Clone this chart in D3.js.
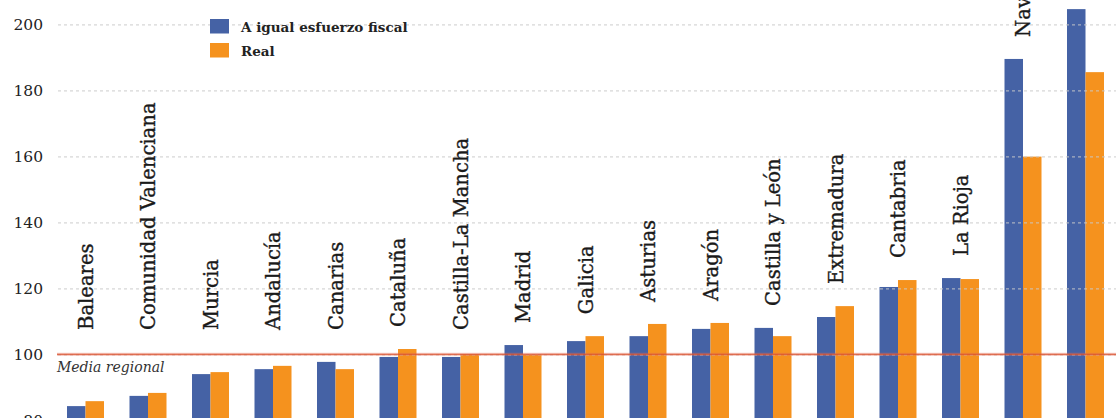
<!DOCTYPE html>
<html>
<head>
<meta charset="utf-8">
<script src="https://cdn.jsdelivr.net/npm/d3@7"></script>
<style>
  body { margin: 0; background: #fff; }
  svg { display: block; font-family: "DejaVu Serif", serif; }
</style>
</head>
<body>
<script>
// regions, ordered as in the chart
const regions = ["Baleares", "Comunidad Valenciana", "Murcia", "Andalucía", "Canarias",
  "Cataluña", "Castilla-La Mancha", "Madrid", "Galicia", "Asturias", "Aragón",
  "Castilla y León", "Extremadura", "Cantabria", "La Rioja", "Navarra", "País Vasco"]

const igualEsfuerzo = [84.3, 87.4, 94.0, 95.5, 97.7, 99.2, 99.2, 102.8, 104.0, 105.5,
  107.7, 108.0, 111.3, 120.4, 123.1, 189.5, 204.6]
const real = [85.8, 88.3, 94.6, 96.5, 95.5, 101.6, 100.0, 99.8, 105.5, 109.2,
  109.5, 105.5, 114.6, 122.5, 122.8, 159.9, 185.5]

const series = ["A igual esfuerzo fiscal", "Real"]
const yTicks = [80, 100, 120, 140, 160, 180, 200]
const media = 100

const w = 1116
const h = 418
const colors = ['#4562a5', '#f5921e']

const svg = d3.select('body')
    .append('svg')
    .attr('width', w)
    .attr('height', h)

const x = d3.scaleBand()
    .domain(regions)
    .range([54.25, 1116.75])
    .paddingInner(0.408)
    .paddingOuter(0.204)

const xs = d3.scaleBand()
    .domain(series)
    .range([0, x.bandwidth()])

const y = d3.scaleLinear()
    .domain([80, 200])
    .range([420.3, 24.3])

const rows = regions.map((r, i) => ({ region: r, values: [igualEsfuerzo[i], real[i]] }))

// bars
const groups = svg.append('g')
    .selectAll('g')
    .data(rows)
    .enter()
    .append('g')
    .attr('transform', d => `translate(${x(d.region)},0)`)

groups.selectAll('rect')
    .data(d => d.values.map((v, j) => ({ key: series[j], v: v })))
    .enter()
    .append('rect')
    .attr('x', d => xs(d.key))
    .attr('width', xs.bandwidth())
    .attr('y', d => y(d.v))
    .attr('height', d => y(80) - y(d.v) + 10)
    .attr('fill', (d, j) => colors[j])

// gridlines + tick labels (drawn over the bars, like the original)
const axis = svg.append('g')
    .attr('transform', 'translate(58,0)')
    .call(d3.axisLeft(y)
        .tickValues(yTicks)
        .tickSize(-(w - 58))
        .tickPadding(15)
        .tickFormat(d3.format('d')))

axis.select('.domain').remove()
axis.selectAll('.tick line')
    .attr('stroke', '#c8c8c8')
    .attr('stroke-opacity', 0.75)
    .attr('stroke-width', 1.3)
    .attr('stroke-dasharray', '3,3')
axis.selectAll('.tick text')
    .attr('fill', '#222')
    .style('font-size', '15.5px')
    .style('font-family', '"DejaVu Serif", serif')

// media regional
svg.append('line')
    .attr('x1', 57).attr('x2', w)
    .attr('y1', y(media)).attr('y2', y(media))
    .attr('stroke', '#e8735c')
    .attr('stroke-opacity', 0.35)
    .attr('stroke-width', 3.2)
svg.append('line')
    .attr('x1', 57).attr('x2', w)
    .attr('y1', y(media)).attr('y2', y(media))
    .attr('stroke', '#d9502c')
    .attr('stroke-width', 1.1)

svg.append('text')
    .attr('x', 57)
    .attr('y', y(media) + 18)
    .attr('fill', '#333')
    .style('font-style', 'italic')
    .style('font-size', '14px')
    .text('Media regional')

// region labels, rotated, just above the bars
svg.append('g')
    .selectAll('text')
    .data(rows)
    .enter()
    .append('text')
    .attr('transform', d => {
        const top = y(d3.max(d.values))
        const ly = Math.min(330, top - 22)
        return `translate(${x(d.region) + x.bandwidth() / 2 + 7},${ly}) rotate(-90)`
    })
    .attr('fill', '#1a1a1a')
    .attr('stroke', '#1a1a1a')
    .attr('stroke-width', 0.35)
    .style('font-size', '19.6px')
    .text(d => d.region)

// legend
const legend = svg.append('g')
    .attr('transform', 'translate(210,19)')

legend.selectAll('rect')
    .data(series)
    .enter()
    .append('rect')
    .attr('x', 0)
    .attr('y', (d, i) => i * 24)
    .attr('width', 19)
    .attr('height', 14.5)
    .attr('fill', (d, i) => colors[i])

legend.selectAll('text')
    .data(series)
    .enter()
    .append('text')
    .attr('x', 31)
    .attr('y', (d, i) => i * 24 + 13)
    .attr('fill', '#222')
    .style('font-size', '13.5px')
    .style('font-weight', 'bold')
    .text(d => d)
</script>
</body>
</html>
